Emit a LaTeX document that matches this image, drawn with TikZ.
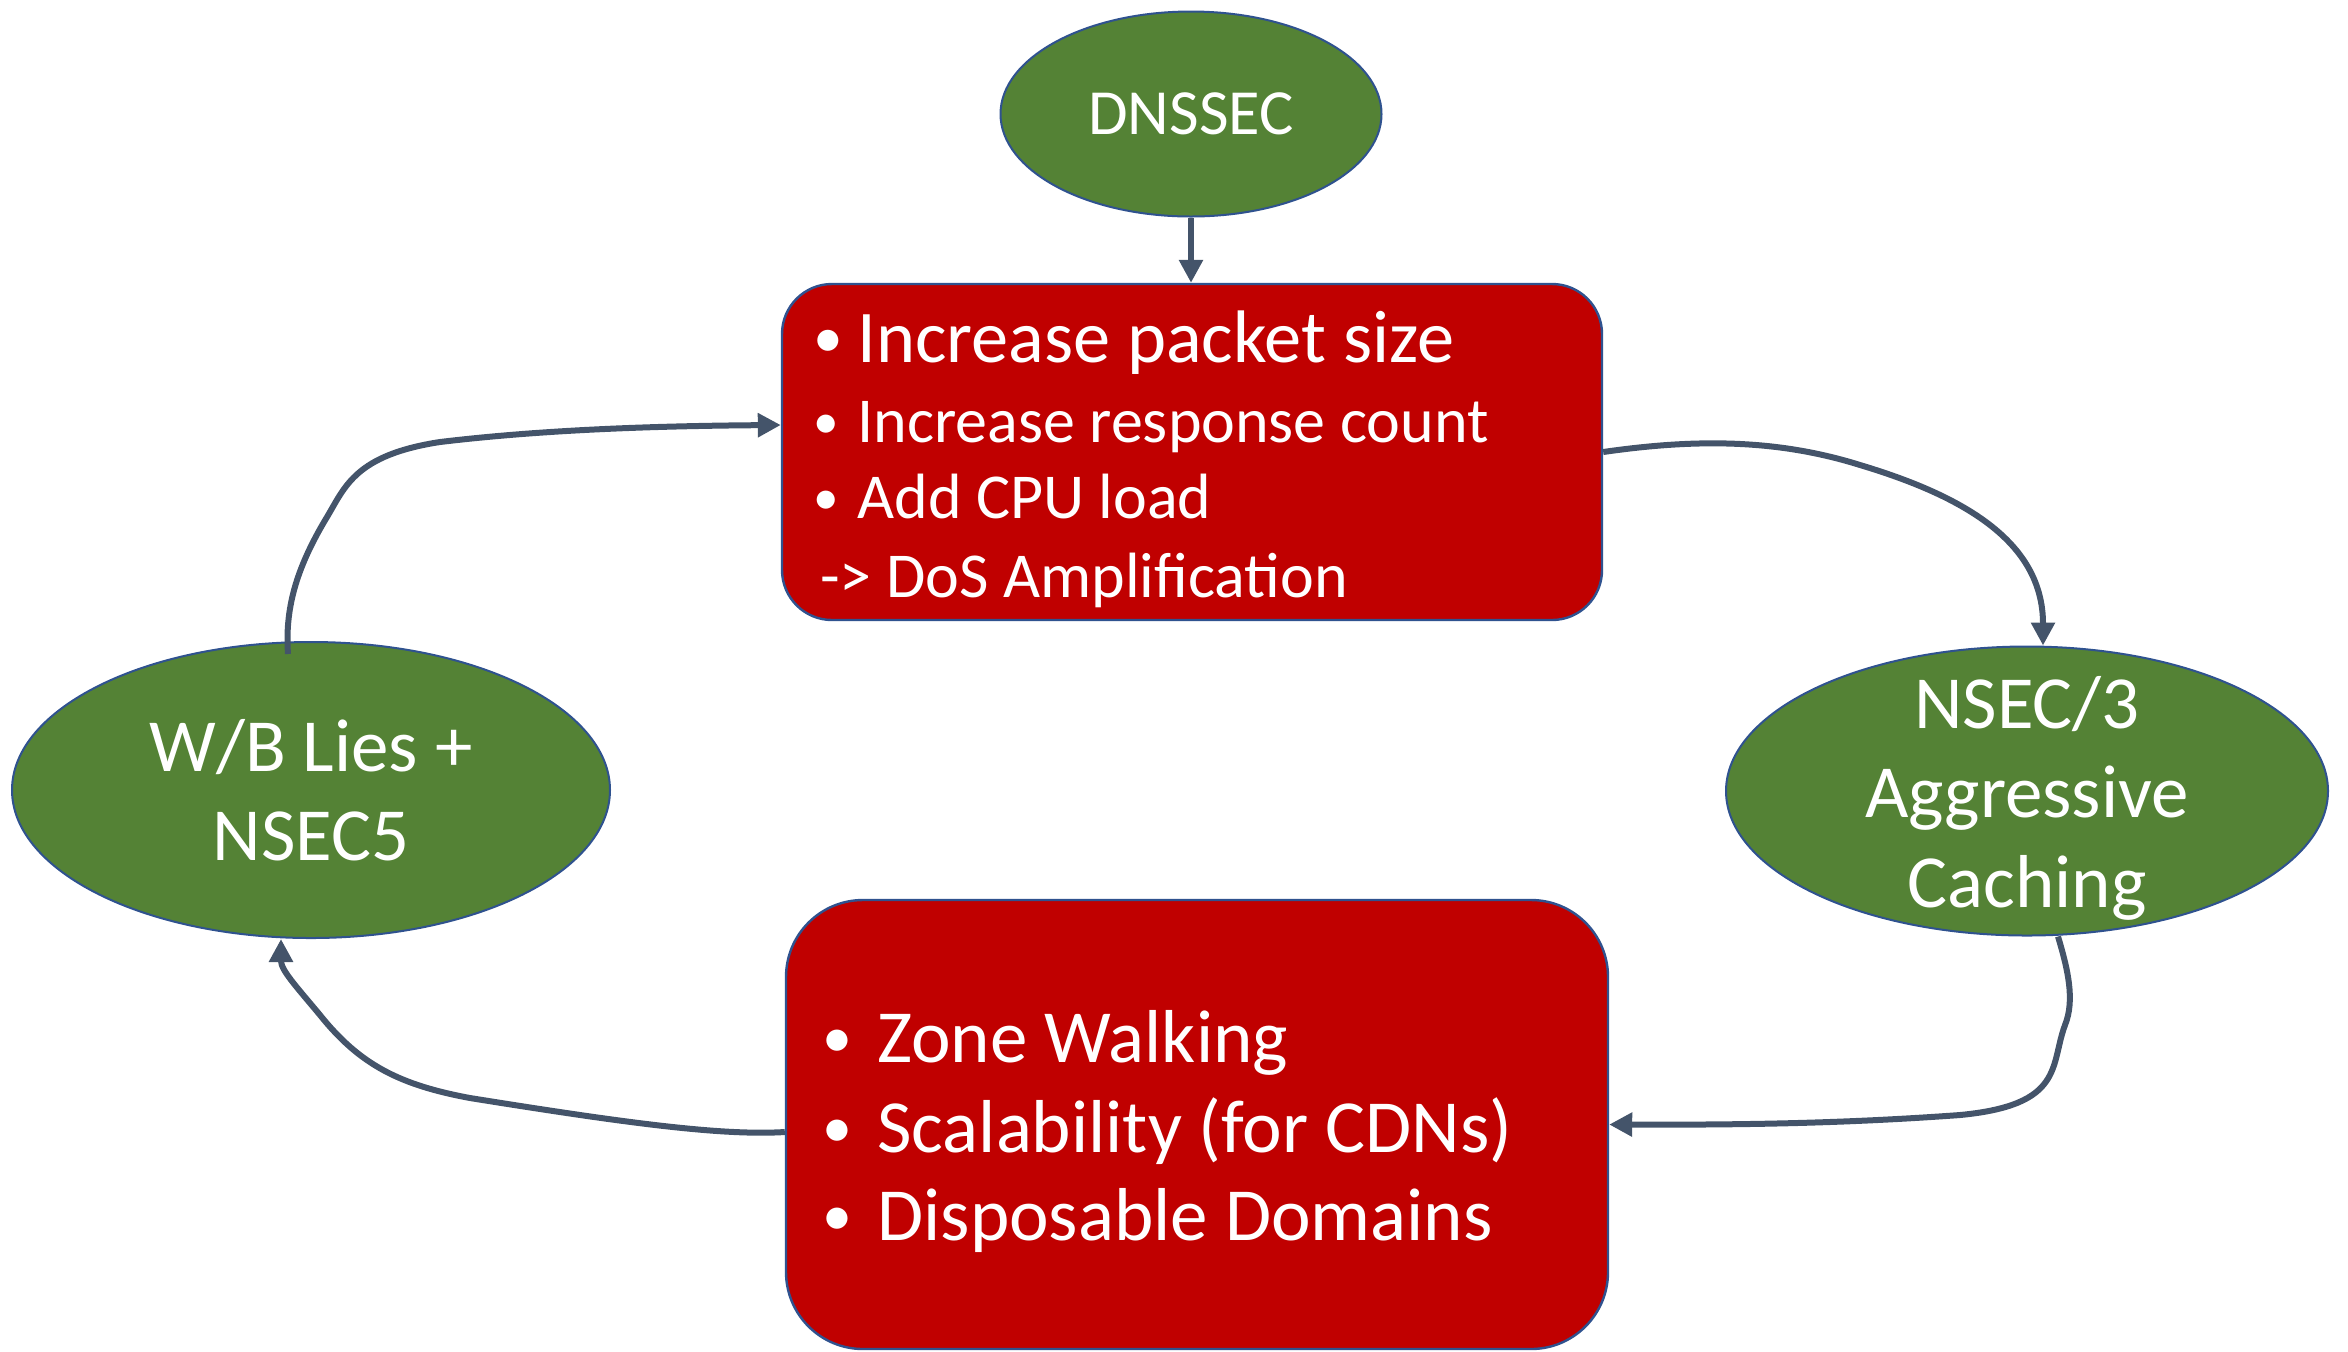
\documentclass[tikz,border=0pt]{standalone}
\usepackage{fontspec}
\usepackage{graphicx}
\setmainfont{Carlito}
\usetikzlibrary{shapes.geometric,arrows.meta,calc}
\definecolor{nodegreen}{HTML}{548235}
\definecolor{boxred}{HTML}{C00000}
\definecolor{edgeblue}{HTML}{2F528F}
\definecolor{arrowslate}{HTML}{44546A}
\newcommand{\smallbul}{\raisebox{0.06em}{\scalebox{0.8}{•}}}
\begin{document}
\begin{tikzpicture}[x=0.5pt,y=-0.5pt,
  greenell/.style={ellipse, draw=edgeblue, line width=1pt, fill=nodegreen, inner sep=0pt},
  redbox/.style={rectangle, draw=edgeblue, line width=1.2pt, fill=boxred, inner sep=0pt},
  txt/.style={text=white, inner sep=0pt, anchor=base west},
  ctxt/.style={text=white, inner sep=0pt, align=center},
  bigtxt/.style={font=\fontsize{37.2pt}{44pt}\selectfont},
  midtxt/.style={font=\fontsize{32pt}{38pt}\selectfont},
  elltxt/.style={font=\fontsize{37.5pt}{44.75pt}\selectfont},
  conn/.style={draw=arrowslate, line width=3pt, -{Triangle[width=11.5pt,length=11.5pt]}}]
\useasboundingbox (0,0) rectangle (2348,1351);

% shapes
\node[greenell, minimum width=190.5pt, minimum height=102.5pt] (dnssec) at (1191,114) {};
\node[redbox, rounded corners=25pt, minimum width=410pt, minimum height=168pt] (top) at (1192,452) {};
\node[greenell, minimum width=301pt, minimum height=144.5pt] (nsec) at (2027,791) {};
\node[greenell, minimum width=299pt, minimum height=148pt] (wb) at (311,790) {};
\node[redbox, rounded corners=38.5pt, minimum width=411pt, minimum height=224.5pt] (bot) at (1197,1124.5) {};

% ellipse texts
\node[ctxt, font=\fontsize{32.2pt}{38pt}\selectfont] (dnssectxt) at (1191,114) {DNSSEC};
\node[ctxt, elltxt] (nsectxt) at (2027,798) {NSEC/3\\Aggressive\\Caching};
\node[ctxt, elltxt] (wbtxt) at (311,790) {W/B Lies +\\NSEC5};

% texts of the top box
\node[txt, bigtxt] (l1) at (813,362) {\makebox[22pt][l]{\smallbul}Increase packet size};
\node[txt, midtxt] (l2) at (813,442) {\makebox[22pt][l]{\smallbul}Increase response count};
\node[txt, midtxt] (l3) at (813,518) {\makebox[22pt][l]{\smallbul}Add CPU load};
\node[txt, midtxt] (l4) at (820,597) {-> DoS Amplification};

% texts of the bottom box
\node[txt, elltxt] (b1) at (822,1062) {\makebox[27.5pt][l]{\smallbul}Zone Walking};
\node[txt, elltxt] (b2) at (822,1152) {\makebox[27.5pt][l]{\smallbul}Scalability (for CDNs)};
\node[txt, elltxt] (b3) at (822,1240) {\makebox[27.5pt][l]{\smallbul}Disposable Domains};

% connectors
\draw[conn] (dnssec.south) -- (dnssec.south |- top.north);
\draw[conn] (top.east) .. controls (1700,438) and (1780,440) .. (1860,465)
  .. controls (1960,495) and (2043,540) .. ($(nsec.north)+(16,0)$);
\draw[conn] ($(nsec.south)+(31,0)$) .. controls (2068,970) and (2075,1000) .. (2065,1025)
  .. controls (2050,1065) and (2065,1105) .. (1960,1115)
  .. controls (1850,1123) and (1750,1125) .. (bot.east);
\draw[conn] ($(bot.west)+(0,7.5)$) .. controls (720,1136) and (620,1122) .. (470,1098)
  .. controls (400,1085) and (360,1065) .. (320,1015)
  .. controls (295,985) and (281,970) .. ($(wb.south)+(-30,0)$);
\draw[conn] ($(wb.north)+(-23,13)$) .. controls (285,610) and (295,570) .. (327,517)
  .. controls (345,487) and (355,455) .. (440,442)
  .. controls (540,430) and (650,426) .. ($(top.west)+(0,-27)$);
\end{tikzpicture}
\end{document}
